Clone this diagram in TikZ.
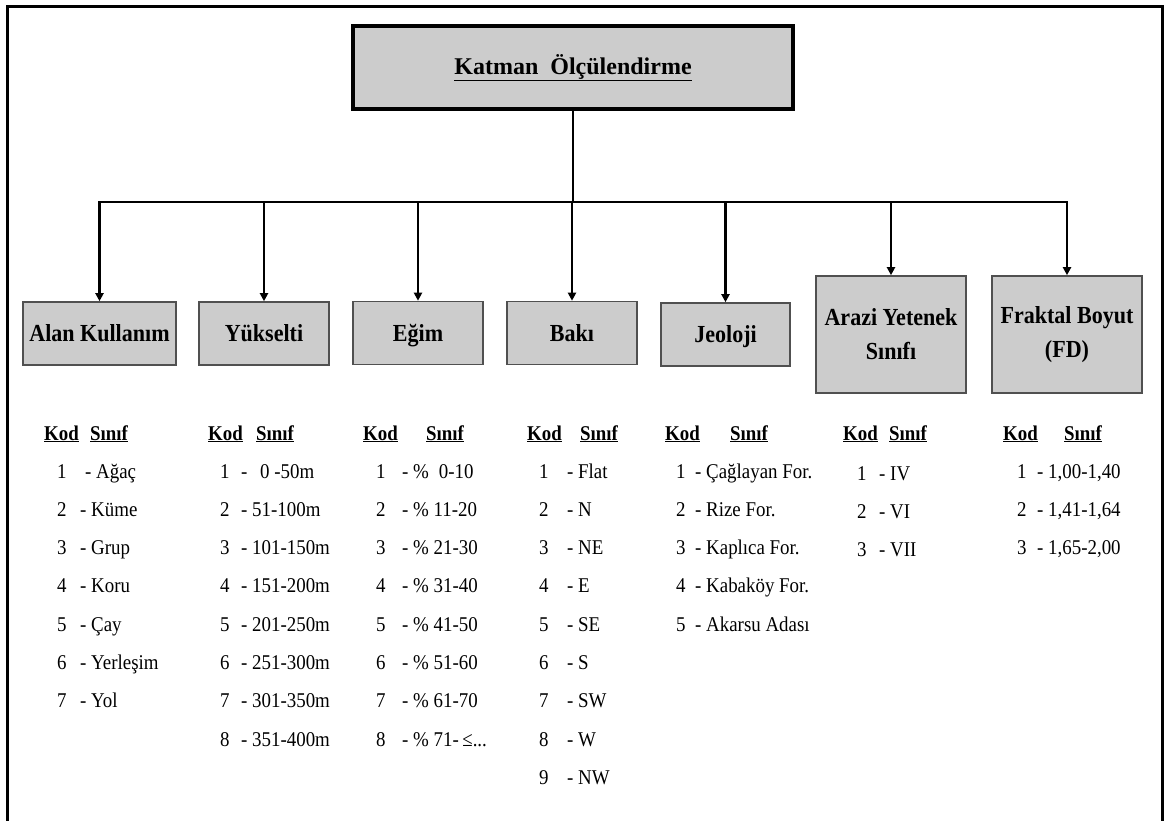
\documentclass[tikz,border=0pt]{standalone}
\usepackage{fontspec}
\setmainfont{Liberation Serif}
\newfontfamily\narrowserif[FakeStretch=0.9]{Liberation Serif}
\usetikzlibrary{arrows.meta}
\definecolor{boxgray}{HTML}{CCCCCC}
\definecolor{edgegray}{HTML}{505050}

\tikzset{
  frameline/.style={line width=3pt, line join=miter},
  topbox/.style={draw=black, line width=3.5pt, fill=boxgray,
    minimum width=440pt, minimum height=83pt, inner sep=0pt,
    font=\bfseries\fontsize{24}{28}\selectfont},
  catbase/.style={draw=edgegray, line width=1.6pt, fill=boxgray,
    inner sep=0pt, align=center,
    font=\narrowserif\bfseries\fontsize{24.5}{34}\selectfont},
  catbox/.style={catbase, minimum height=63pt, text height=20pt, text depth=4pt},
  tallbox/.style={catbase, minimum width=150pt, minimum height=117pt},
  link/.style={line width=2.6pt},
  droplink/.style={link, -{Triangle[length=8pt,width=8pt]}},
  hdr/.style={anchor=base west, inner sep=0pt,
    font=\narrowserif\bfseries\fontsize{21}{24}\selectfont},
  entry/.style={anchor=base west, inner sep=0pt,
    font=\narrowserif\fontsize{21}{24}\selectfont},
}

\newcommand{\kodhead}[3]{%
  \node[hdr] (#1k) at (#2,440) {\underline{Kod}};
  \node[hdr] (#1s) at (#3,440) {\underline{Sınıf}};}

\begin{document}
\begin{tikzpicture}[x=1pt, y=-1pt]
\useasboundingbox (0,0) rectangle (1167,821);

% outer frame (open at the bottom)
\draw[frameline] (7,821) -- (7,7) -- (1162,7) -- (1162,821);

% root and category boxes
\node[topbox] (root) at (573,67.5) {\underline{Katman\ \ Ölçülendirme}};

\node[catbox, minimum width=153pt] (alan)  at (99.5,333.5) {Alan Kullanım};
\node[catbox, minimum width=130pt] (yuk)   at (264,333.5)  {Yükselti};
\node[catbox, minimum width=130pt] (egim)  at (418,333)    {Eğim};
\node[catbox, minimum width=130pt] (baki)  at (572,333)    {Bakı};
\node[catbox, minimum width=129pt] (jeo)   at (725.5,334.5){Jeoloji};
\node[tallbox] (arazi) at (891,334.5)  {Arazi Yetenek\\Sınıfı};
\node[tallbox] (frak)  at (1067,334.5) {Fraktal Boyut\\(FD)};

% connectors
\coordinate (bus) at (573,202);
\draw[link] (root.south) -- (root.south |- bus);
\draw[link, line cap=rect] (alan.north |- bus) -- (frak.north |- bus);
\foreach \c in {alan,yuk,egim,baki,jeo,arazi,frak}
  \draw[droplink] (\c.north |- bus) -- (\c.north);

% Alan Kullanim
\kodhead{ca}{44}{90}
\foreach \d/\dx/\t [count=\i] in {1/85/Ağaç, 2/80/Küme, 3/80/Grup, 4/80/Koru,
    5/80/Çay, 6/80/Yerleşim, 7/80/Yol} {
  \node[entry] (can\i) at (57,{478+(\i-1)*38.3}) {\d};
  \node[entry] (cat\i) at (\dx,{478+(\i-1)*38.3}) {- \t};
}

% Yukselti
\kodhead{cb}{208}{256}
\foreach \d/\t [count=\i] in {1/{\hspace{8pt}0 -50m}, 2/51-100m, 3/101-150m,
    4/151-200m, 5/201-250m, 6/251-300m, 7/301-350m, 8/351-400m} {
  \node[entry] (cbn\i) at (220,{478+(\i-1)*38.3}) {\d};
  \node[entry] (cbt\i) at (241,{478+(\i-1)*38.3}) {- \t};
}

% Egim
\kodhead{cc}{363}{426}
\foreach \d/\t [count=\i] in {1/{\%\hspace{10pt}0-10}, 2/\% 11-20, 3/\% 21-30,
    4/\% 31-40, 5/\% 41-50, 6/\% 51-60, 7/\% 61-70, 8/{\% 71-\,≤...}} {
  \node[entry] (ccn\i) at (376,{478+(\i-1)*38.3}) {\d};
  \node[entry] (cct\i) at (402,{478+(\i-1)*38.3}) {- \t};
}

% Baki
\kodhead{cd}{527}{580}
\foreach \d/\t [count=\i] in {1/Flat, 2/N, 3/NE, 4/E, 5/SE, 6/S, 7/SW, 8/W, 9/NW} {
  \node[entry] (cdn\i) at (539,{478+(\i-1)*38.3}) {\d};
  \node[entry] (cdt\i) at (567,{478+(\i-1)*38.3}) {- \t};
}

% Jeoloji
\kodhead{ce}{665}{730}
\foreach \d/\t [count=\i] in {1/Çağlayan For., 2/Rize For., 3/Kaplıca For.,
    4/Kabaköy For., 5/Akarsu Adası} {
  \node[entry] (cen\i) at (676,{478+(\i-1)*38.3}) {\d};
  \node[entry] (cet\i) at (695,{478+(\i-1)*38.3}) {- \t};
}

% Arazi Yetenek Sinifi
\kodhead{cf}{843}{889}
\foreach \d/\t [count=\i] in {1/IV, 2/VI, 3/VII} {
  \node[entry] (cfn\i) at (857,{480+(\i-1)*38.3}) {\d};
  \node[entry] (cft\i) at (879,{480+(\i-1)*38.3}) {- \t};
}

% Fraktal Boyut
\kodhead{cg}{1003}{1064}
\foreach \d/\t [count=\i] in {1/{1,00-1,40}, 2/{1,41-1,64}, 3/{1,65-2,00}} {
  \node[entry] (cgn\i) at (1017,{478+(\i-1)*38.3}) {\d};
  \node[entry] (cgt\i) at (1037,{478+(\i-1)*38.3}) {- \t};
}
\end{tikzpicture}
\end{document}
